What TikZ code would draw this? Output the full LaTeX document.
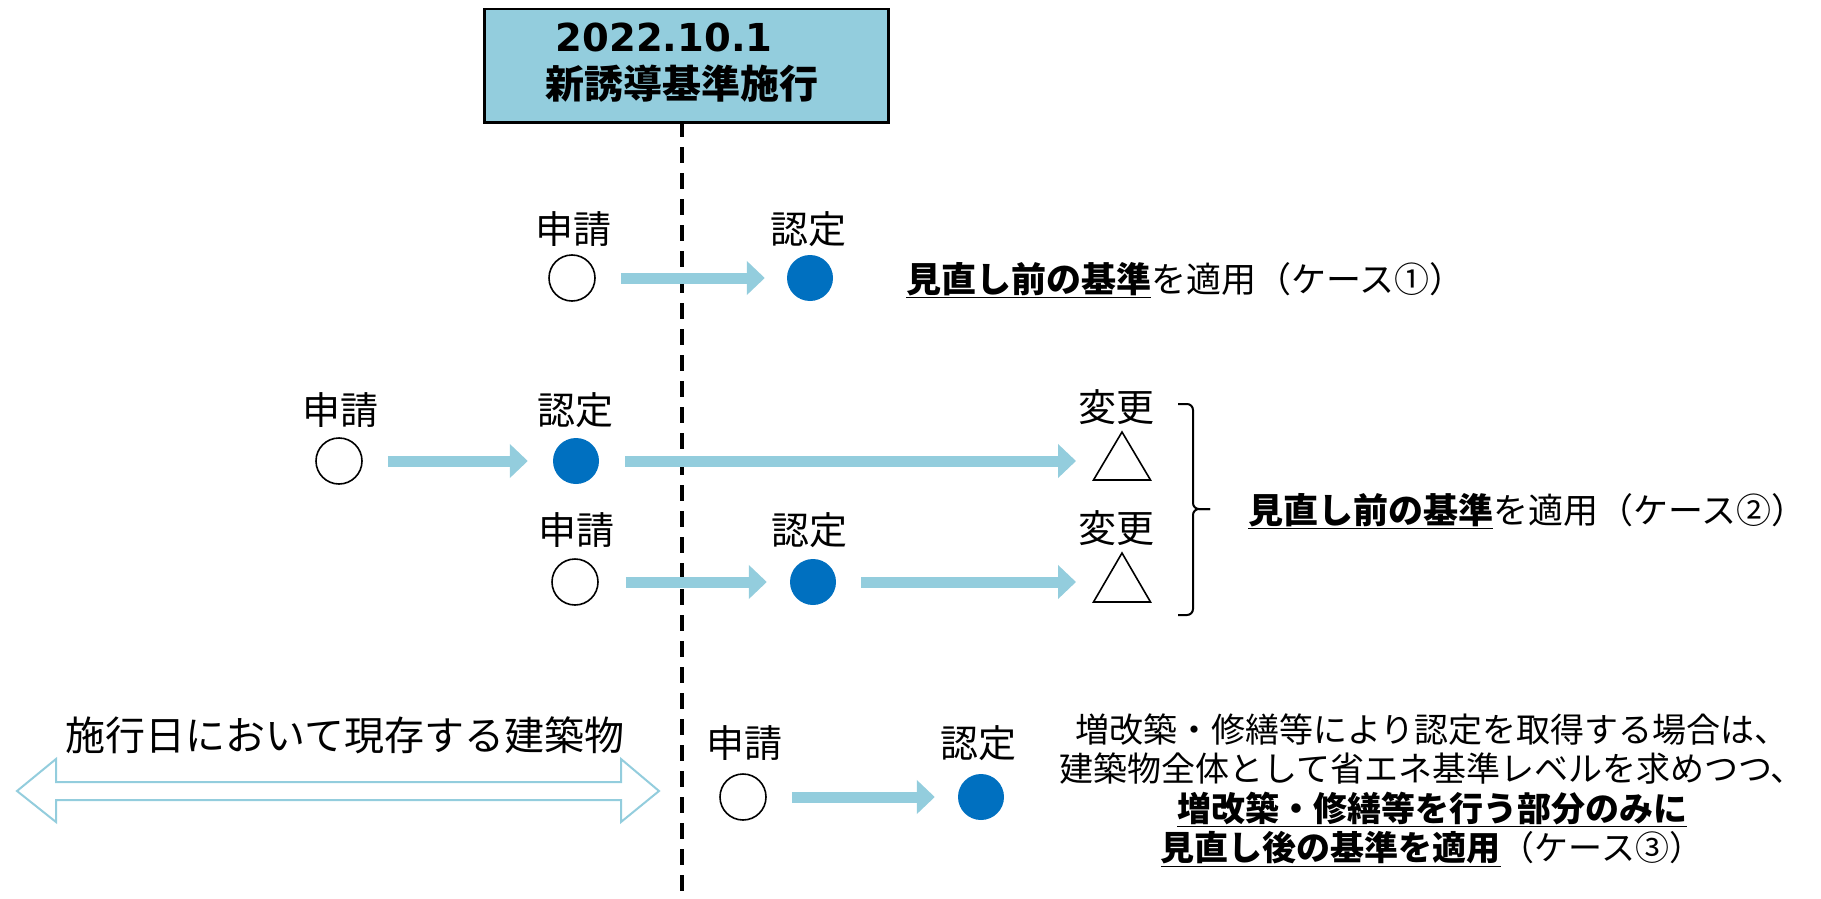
\documentclass[tikz,border=0pt]{standalone}
\usepackage{fontspec}
\setmainfont{DejaVu Sans}
\newfontfamily\jp{Noto Sans CJK JP}
\newfontfamily\dv{DejaVu Sans}
\usetikzlibrary{arrows.meta,calc}
\definecolor{lb}{HTML}{93CDDD}
\definecolor{db}{HTML}{0070C0}
\tikzset{
  lbl/.style={font=\jp\fontsize{38}{44}\selectfont, inner sep=0pt},
  txt/.style={font=\jp\fontsize{34}{39.5}\selectfont, inner sep=0pt},
  casetxt/.style={font=\jp\fontsize{35}{40}\selectfont, inner sep=0pt},
  ocirc/.style={circle, draw=black, line width=1.6pt, minimum size=46pt, inner sep=0pt},
  fcirc/.style={circle, fill=db, minimum size=46pt, inner sep=0pt},
  fat/.style={draw=lb, line width=11pt, -{Triangle[length=18pt,width=33pt]}},
  tri/.style={draw=black, line width=1.6pt, line join=miter},
  brace/.style={draw=black, line width=2pt, rounded corners=6pt},
  timeline/.style={draw=black, line width=3.4pt, dash pattern=on 16pt off 10pt},
  dblarrow/.style={draw=lb, line width=2pt, line join=miter},
}
\begin{document}
\begin{tikzpicture}[x=1pt,y=-1pt]
\useasboundingbox (0,0) rectangle (1821,899);

% header
\node[draw=black, fill=lb, line width=2.5pt, minimum width=404pt, minimum height=113pt, anchor=north west, inner sep=0pt] (hdr) at (483,8) {};
\node[font=\dv\bfseries\fontsize{38.5}{44}\selectfont, inner sep=0pt] (date) at (664,37) {2022.10.1};
\node[font=\jp\bfseries\fontsize{39}{44}\selectfont, inner sep=0pt] (title) at (682,84) {新誘導基準施行};

% timeline
\coordinate (dtop) at (682,121);
\coordinate (dbot) at (682,899);
\draw[timeline] (dtop) -- (dbot);

% row 1
\node[lbl] (s1) at (573,229) {申請};
\node[lbl] (n1) at (808,229) {認定};
\node[ocirc] (o1) at (572,278) {};
\node[fcirc] (f1) at (810,278) {};
\draw[fat, shorten <=25pt, shorten >=22pt] (o1) -- (f1);
\node[casetxt, anchor=west] (case1) at (906,280) {{\bfseries\underline{見直し前の基準}}を適用（ケース①）};

% row 2
\node[lbl] (s2) at (340,410) {申請};
\node[lbl] (n2) at (575,410) {認定};
\node[ocirc] (o2) at (339,461) {};
\node[fcirc] (f2) at (576,461) {};
\coordinate (t1) at (1122,461);
\node[lbl] (h1) at (1116,407) {変更};
\draw[fat, shorten <=25pt, shorten >=25pt] (o2) -- (f2);
\draw[fat, shorten <=26pt, shorten >=46pt] (f2) -- (t1);
\draw[tri] ($(t1)+(0,-29)$) -- ($(t1)+(28.5,19)$) -- ($(t1)+(-28.5,19)$) -- cycle;

% row 3
\node[lbl] (s3) at (576,530) {申請};
\node[lbl] (n3) at (809,530) {認定};
\node[ocirc] (o3) at (575,582) {};
\node[fcirc] (f3) at (813,582) {};
\coordinate (t2) at (1122,582);
\node[lbl] (h2) at (1116,528) {変更};
\draw[fat, shorten <=27pt, shorten >=23pt] (o3) -- (f3);
\draw[fat, shorten <=25pt, shorten >=46pt] (f3) -- (t2);
\draw[tri] ($(t2)+(0,-29)$) -- ($(t2)+(28.5,20)$) -- ($(t2)+(-28.5,20)$) -- cycle;

% brace
\draw[brace] (1178,404) -- (1193,404) -- (1193,509) -- (1210,509);
\draw[brace] (1210,509) -- (1193,509) -- (1193,615) -- (1178,615);
\node[casetxt, anchor=west] (case2) at (1248,511) {{\bfseries\underline{見直し前の基準}}を適用（ケース②）};

% row 4
\node[lbl, font=\jp\fontsize{40}{44}\selectfont] (exist) at (345,735) {施行日において現存する建築物};
\draw[dblarrow] (17,791) -- (56,759) -- (56,782) -- (621,782) -- (621,759) -- (659,791) -- (621,822) -- (621,800) -- (56,800) -- (56,822) -- cycle;
\node[lbl] (s4) at (744,743) {申請};
\node[lbl] (n4) at (978,743) {認定};
\node[ocirc] (o4) at (743,797) {};
\node[fcirc] (f4) at (981,797) {};
\draw[fat, shorten <=25pt, shorten >=23pt] (o4) -- (f4);
\node[txt, align=center] (case3) at (1432,790) {増改築・修繕等により認定を取得する場合は、\\建築物全体として省エネ基準レベルを求めつつ、\\{\bfseries\underline{増改築・修繕等を行う部分のみに}}\\{\bfseries\underline{見直し後の基準を適用}}（ケース③）};
\end{tikzpicture}
\end{document}
